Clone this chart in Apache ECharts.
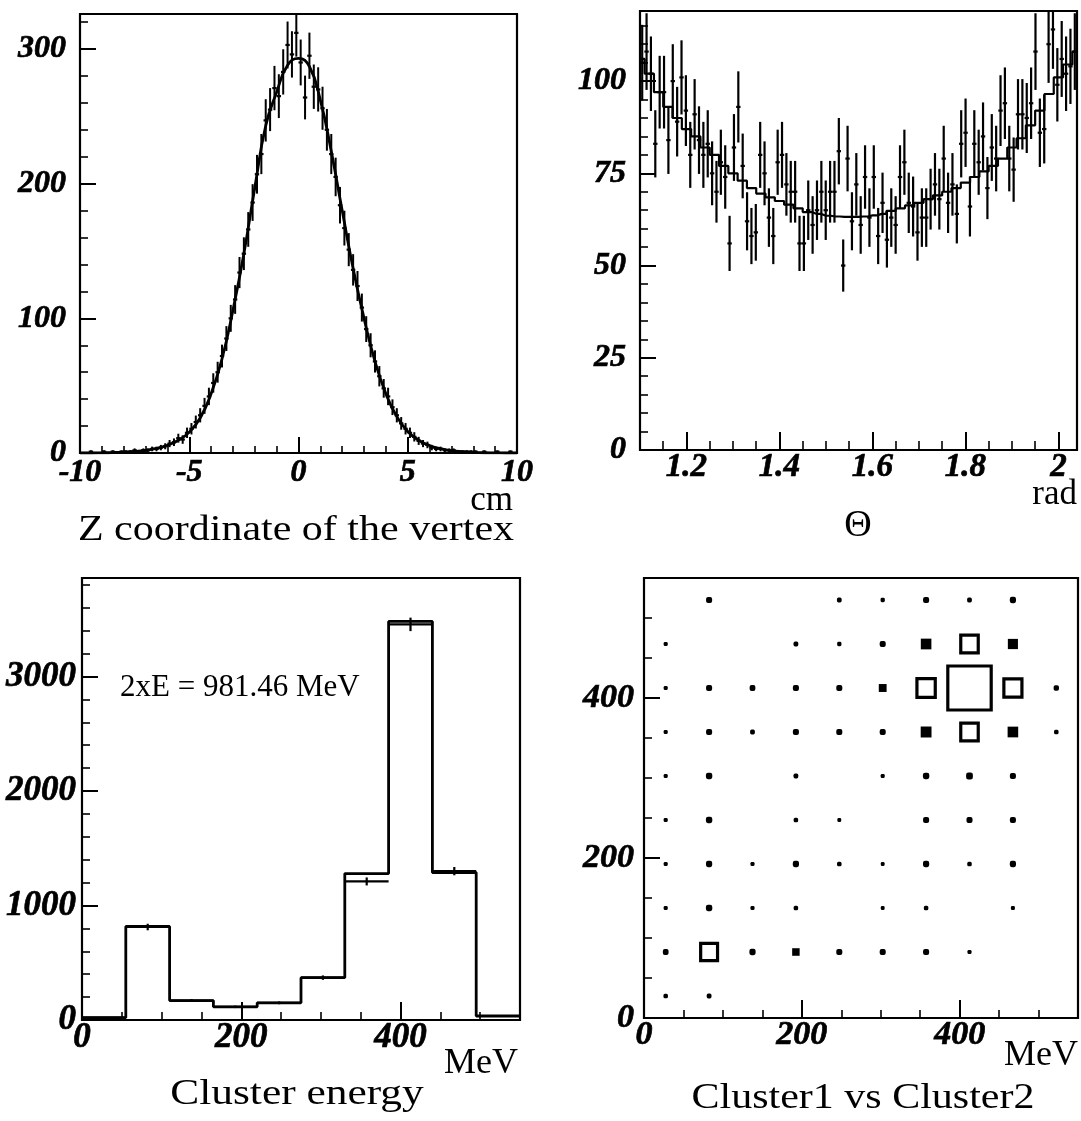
<!DOCTYPE html>
<html>
<head>
<meta charset="utf-8">
<script src="https://cdn.jsdelivr.net/npm/echarts@6/dist/echarts.min.js"></script>
<style>
html,body{margin:0;padding:0;background:#fff;}
#chart{width:1081px;height:1121px;}
</style>
</head>
<body>
<div id="chart"></div>
<script>
// ---------- Panel 1: Z coordinate of the vertex (100 bins of 0.2 cm, -10..10) ----------
var zCounts = [0,0,1,0,0,1,0,1,0,1, 1,1,2,1,2,2,3,3,4,5,
  7,8,11,10,15,18,23,28,35,42, 52,60,72,85,100,114,134,148,166,186,
  207,222,247,255,271,265,283,303,296,312, 290,264,295,272,270,256,240,222,205,184,
  167,151,136,124,108,92,80,68,57,48, 42,34,28,22,18,15,12,9,7,6,
  4,3,3,2,2,2,1,1,1,1, 1,0,1,0,0,1,0,0,1,0];
var zFitX = [-10,-9.5,-9,-8.5,-8,-7.5,-7,-6.5,-6,-5.5,-5,-4.5,-4,-3.5,-3,-2.5,-2,-1.5,-1,-0.5,0,
  0.5,1,1.5,2,2.5,3,3.5,4,4.5,5,5.5,6,6.5,7,7.5,8,8.5,9,9.5,10];
var zFit = [0,0,0.1,0.3,0.6,1.1,2,3.4,5.8,9.5,15.5,26,44,70,106,148,197,243,268,288,293,
  287,262,224,180,137,100,68,44,27,16,9.5,5.5,3.2,1.8,1,0.5,0.2,0.1,0,0];
var zTicksMajor = [-10,-5,0,5,10];
var zYTicksMajor = [0,100,200,300];

// ---------- Panel 2: Theta (100 bins, 1.1..2.04 rad) ----------
var thetaCounts = [105,108,102,83,97,97,84,100,89,101, 92,80,91,84,80,83,75,70,78,74,
  56,82,93,77,62,58,59,80,75,63, 58,78,80,72,70,70,56,56,65,61,
  65,70,65,70,70,81,50,79,62,72, 61,74,63,74,58,67,57,63,61,74,
  78,67,66,59,63,63,68,72,68,79, 67,72,64,83,86,66,83,78,85,71,
  82,79,92,94,79,76,91,91,90,94, 108,86,87,110,114,99,106,102,104,108];
var thetaFitX = [1.10,1.12,1.14,1.16,1.18,1.20,1.22,1.24,1.26,1.28,1.30,1.32,1.34,1.36,1.38,1.40,
  1.42,1.44,1.46,1.48,1.50,1.52,1.54,1.56,1.58,1.60,1.62,1.64,1.66,1.68,1.70,1.72,1.74,1.76,
  1.78,1.80,1.82,1.84,1.86,1.88,1.90,1.92,1.94,1.96,1.98,2.00,2.02,2.04];
var thetaFit = [106,102,97,93,90,87,85,82,80,77,75,73,71,69.5,68.5,67.5,
  66.5,65.5,64.5,64,63.5,63.3,63.2,63.2,63.3,63.6,64,64.8,65.5,66.3,67,68,69,70,
  71,72.5,74,75.5,77,79,82,84.5,88,92,96.5,101,104.5,108];
var thetaTicksMajor = [1.2,1.4,1.6,1.8,2];
var thetaYTicksMajor = [0,25,50,75,100];

// ---------- Panel 3: Cluster energy (10 bins of 55 MeV) ----------
var clusterHist = [20,817,170,115,150,370,1279,3481,1288,35];
var clusterData = [20,812,170,115,150,370,1210,3455,1300,35];
var clusterTicksMajor = [0,200,400];
var clusterYTicksMajor = [0,1000,2000,3000];

// ---------- Panel 4: Cluster1 vs Cluster2 (box plot, 55 MeV cells) ----------
var boxX = [82.5,247.5,302.5,357.5,412.5,467.5,
  27.5,192.5,247.5,302.5,357.5,412.5,467.5,
  27.5,82.5,137.5,192.5,247.5,302.5,357.5,412.5,467.5,522.5,
  27.5,82.5,137.5,192.5,247.5,302.5,357.5,412.5,467.5,522.5,
  27.5,82.5,192.5,302.5,357.5,412.5,467.5,
  27.5,82.5,192.5,247.5,357.5,412.5,467.5,
  27.5,82.5,137.5,192.5,247.5,302.5,357.5,412.5,467.5,
  27.5,82.5,137.5,192.5,302.5,357.5,467.5,
  27.5,82.5,137.5,192.5,247.5,302.5,357.5,412.5,
  27.5,82.5];
var boxY = [522.5,522.5,522.5,522.5,522.5,522.5,
  467.5,467.5,467.5,467.5,467.5,467.5,467.5,
  412.5,412.5,412.5,412.5,412.5,412.5,412.5,412.5,412.5,412.5,
  357.5,357.5,357.5,357.5,357.5,357.5,357.5,357.5,357.5,357.5,
  302.5,302.5,302.5,302.5,302.5,302.5,302.5,
  247.5,247.5,247.5,247.5,247.5,247.5,247.5,
  192.5,192.5,192.5,192.5,192.5,192.5,192.5,192.5,192.5,
  137.5,137.5,137.5,137.5,137.5,137.5,137.5,
  82.5,82.5,82.5,82.5,82.5,82.5,82.5,82.5,
  27.5,27.5];
var boxN = [36,22,18,36,22,38,
  16,22,18,36,110,300,100,
  16,36,32,36,36,60,330,1850,320,28,
  16,36,22,36,36,36,115,300,110,20,
  16,40,22,16,40,45,36,
  16,40,20,14,36,36,36,
  16,38,16,38,20,14,38,20,38,
  16,40,16,20,14,20,16,
  32,280,38,55,36,36,36,16,
  20,22];
var energyTicksMajor = [0,200,400];

// ---------- helpers ----------
function lab(size, margin, values){
  return {show:true, fontSize:size, margin:margin, customValues:values,
    fontFamily:'Liberation Serif', fontStyle:'italic', fontWeight:'bold', color:'#000',
    textBorderColor:'#000', textBorderWidth:0.7,
    formatter:function(v){ return String(+v.toFixed(3)); }};
}
function axisPair(dim, grid, min, max, minorStep, majorVals, labelSize, labelMargin, majorLen, minorLen){
  var main = {
    type:'value', gridIndex:grid, min:min, max:max, interval:minorStep,
    position: dim==='x' ? 'bottom' : 'left',
    axisLine:{show:true, onZero:false, lineStyle:{color:'#000', width:2}},
    axisTick:{show:true, inside:true, length:minorLen, lineStyle:{color:'#000', width:1.6}},
    axisLabel:lab(labelSize, labelMargin, majorVals),
    splitLine:{show:false}
  };
  var major = {
    type:'value', gridIndex:grid, min:min, max:max, interval:minorStep,
    position: dim==='x' ? 'bottom' : 'left', offset:0,
    axisLine:{show:false, onZero:false},
    axisTick:{show:true, inside:true, length:majorLen, customValues:majorVals, lineStyle:{color:'#000', width:2}},
    axisLabel:{show:false},
    splitLine:{show:false}
  };
  return [main, major];
}

function errRender(binW, lw){
  return function(params, api){
    var x = api.value(0), v = api.value(1);
    var e = Math.sqrt(Math.max(v, 0));
    var c = api.coord([x, v]);
    var t = api.coord([x, v + e]);
    var b = api.coord([x, Math.max(v - e, 0)]);
    var w = api.size([binW, 0])[0] / 2;
    return {type:'group', children:[
      {type:'line', shape:{x1:c[0], y1:t[1], x2:c[0], y2:b[1]}, style:{stroke:'#000', lineWidth:lw}},
      {type:'line', shape:{x1:c[0]-w, y1:c[1], x2:c[0]+w, y2:c[1]}, style:{stroke:'#000', lineWidth:2.2}}
    ]};
  };
}

var BOXMAX = 1850, CELL = 55;
function boxRender(params, api){
  var n = api.value(2);
  var side = CELL * Math.sqrt(n / BOXMAX);
  var c = api.coord([api.value(0), api.value(1)]);
  var s = api.size([side, side]);
  var w = Math.max(s[0], 3), h = Math.max(s[1], 3);
  if (w > 13) {
    return {type:'rect', shape:{x:c[0]-w/2, y:c[1]-h/2, width:w, height:h},
      style:{fill:'none', stroke:'#000', lineWidth:3.2}};
  }
  return {type:'rect', shape:{x:c[0]-w/2, y:c[1]-h/2, width:w, height:h, r:w > 7 ? 0 : w/3}, style:{fill:'#000'}};
}

// ---------- build ----------
var grids = [
  {left:80, top:14, width:437, height:439},
  {left:640, top:11, width:437, height:439},
  {left:82, top:578, width:438, height:442},
  {left:644, top:578, width:434, height:440}
].map(function(g){ return Object.assign({show:true, borderColor:'#000', borderWidth:2.2, backgroundColor:'transparent', containLabel:false}, g); });

var xAxes = [].concat(
  axisPair('x', 0, -10, 10, 1, zTicksMajor, 32, 4, 16, 7),
  axisPair('x', 1, 1.1, 2.04, 0.05, thetaTicksMajor, 33, 1, 18, 9),
  axisPair('x', 2, 0, 550, 50, clusterTicksMajor, 35, 0, 18, 8),
  axisPair('x', 3, 0, 550, 50, energyTicksMajor, 34, 0, 18, 8)
);
var yAxes = [].concat(
  axisPair('y', 0, 0, 326, 20, zYTicksMajor, 32, 14, 16, 8),
  axisPair('y', 1, 0, 119, 5, thetaYTicksMajor, 32, 14, 16, 8),
  axisPair('y', 2, 0, 3860, 200, clusterYTicksMajor, 35, 6, 16, 8),
  axisPair('y', 3, 0, 550, 50, energyTicksMajor, 34, 10, 16, 8)
);

var zData = zCounts.map(function(v, i){ return [-10 + 0.2 * (i + 0.5), v]; });
var zFitData = zFitX.map(function(x, i){ return [x, zFit[i]]; });
var thetaW = (2.04 - 1.1) / thetaCounts.length;
var thetaData = thetaCounts.map(function(v, i){ return [1.1 + thetaW * (i + 0.5), v]; });
var thetaFitData = thetaFitX.map(function(x, i){ return [x, thetaFit[i]]; });
var histStep = clusterHist.map(function(v, i){ return [i * 55, v]; }).concat([[550, clusterHist[clusterHist.length-1]]]);
var clusterPts = clusterData.map(function(v, i){ return [i * 55 + 27.5, v]; });
var boxData = boxX.map(function(x, i){ return [x, boxY[i], boxN[i]]; });

function txt(x, y, text, size, align, scaleX){
  return {type:'text', x:x, y:y, scaleX:scaleX || 1, z:100,
    style:{text:text, font: size + "px 'Liberation Serif'", fill:'#000',
      textAlign:align, align:align, textVerticalAlign:'middle', verticalAlign:'middle'}};
}

var option = {
  animation:false,
  backgroundColor:'#fff',
  grid: grids,
  xAxis: xAxes,
  yAxis: yAxes,
  series: [
    {type:'custom', xAxisIndex:0, yAxisIndex:0, clip:true, renderItem:errRender(0.2, 2), data:zData, z:3},
    {type:'line', xAxisIndex:0, yAxisIndex:0, data:zFitData, smooth:true, showSymbol:false,
      lineStyle:{color:'#000', width:2.8}, z:4},
    {type:'custom', xAxisIndex:2, yAxisIndex:2, clip:true, renderItem:errRender(thetaW, 2.2), data:thetaData, z:3},
    {type:'line', xAxisIndex:2, yAxisIndex:2, data:thetaFitData, step:'middle', showSymbol:false,
      lineStyle:{color:'#000', width:2.2}, z:4},
    {type:'line', xAxisIndex:4, yAxisIndex:4, data:histStep, step:'end', showSymbol:false,
      lineStyle:{color:'#000', width:2.8}, z:4},
    {type:'custom', xAxisIndex:4, yAxisIndex:4, clip:true, renderItem:errRender(55, 2.2), data:clusterPts, z:3},
    {type:'custom', xAxisIndex:6, yAxisIndex:6, clip:true, renderItem:boxRender, data:boxData, z:3}
  ],
  graphic: [
    txt(513, 501, 'cm', 35, 'right'),
    txt(296, 531, 'Z coordinate of the vertex', 35, 'center', 1.2),
    txt(1077, 495, 'rad', 35, 'right'),
    txt(858, 526, '\u0398', 38, 'center'),
    txt(120, 688, '2xE = 981.46 MeV', 31, 'left'),
    txt(518, 1064, 'MeV', 36, 'right'),
    txt(297, 1095, 'Cluster energy', 35, 'center', 1.24),
    txt(1078, 1056, 'MeV', 36, 'right'),
    txt(863, 1099, 'Cluster1 vs Cluster2', 35, 'center', 1.2)
  ]
};

var chart = echarts.init(document.getElementById('chart'), null, {renderer:'canvas'});
chart.setOption(option);
</script>
</body>
</html>
